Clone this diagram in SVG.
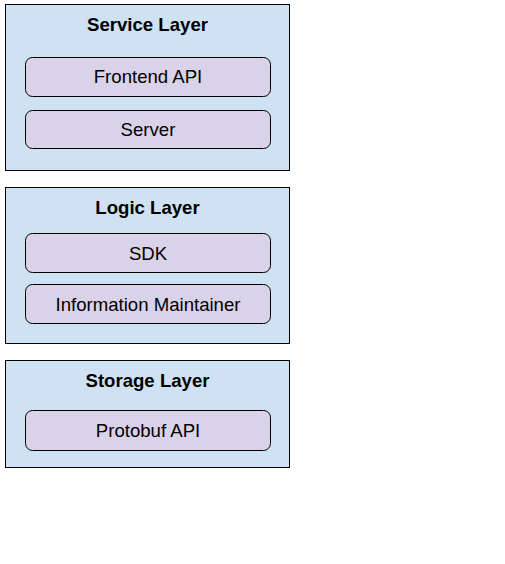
<svg xmlns="http://www.w3.org/2000/svg" width="505" height="564" viewBox="0 0 505 564">
<style>
.layer{fill:#cfe2f3;stroke:#000;stroke-width:1}
.comp{fill:#d9d2e9;stroke:#000;stroke-width:1}
.t{font-family:"Liberation Sans",Arial,sans-serif;font-size:18.6px;text-anchor:middle;fill:#000}
.b{font-weight:bold}
</style>
<rect width="505" height="564" fill="#fff"/>
<g id="service-layer">
<rect class="layer" x="5.5" y="4.5" width="284" height="166"/>
<text class="t b" x="147.5" y="31">Service Layer</text>
</g>
<g id="frontend-api">
<rect class="comp" x="25.5" y="57.5" width="245" height="39" rx="7"/>
<text class="t" x="148" y="83">Frontend API</text>
</g>
<g id="server">
<rect class="comp" x="25.5" y="110.5" width="245" height="38" rx="7"/>
<text class="t" x="148" y="136">Server</text>
</g>
<g id="logic-layer">
<rect class="layer" x="5.5" y="187.5" width="284" height="156"/>
<text class="t b" x="147.5" y="214">Logic Layer</text>
</g>
<g id="sdk">
<rect class="comp" x="25.5" y="233.5" width="245" height="39" rx="7"/>
<text class="t" x="148" y="260">SDK</text>
</g>
<g id="information-maintainer">
<rect class="comp" x="25.5" y="284.5" width="245" height="39" rx="7"/>
<text class="t" x="148" y="311">Information Maintainer</text>
</g>
<g id="storage-layer">
<rect class="layer" x="5.5" y="360.5" width="284" height="107"/>
<text class="t b" x="147.5" y="387">Storage Layer</text>
</g>
<g id="protobuf-api">
<rect class="comp" x="25.5" y="410.5" width="245" height="40" rx="7"/>
<text class="t" x="148" y="437">Protobuf API</text>
</g>
<g id="connectors"></g>
</svg>
